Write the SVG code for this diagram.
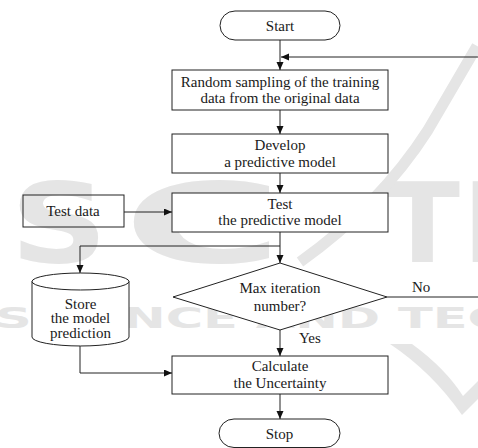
<svg xmlns="http://www.w3.org/2000/svg" width="478" height="448" viewBox="0 0 478 448">
<style>
.wm{fill:#e5e5e5;font-weight:bold}
.box{fill:#fff;stroke:#222;stroke-width:1}
.open{fill:none;stroke:#222;stroke-width:1}
.lbl{font-size:15px;fill:#1a1a1a;text-anchor:middle}
.con{fill:none;stroke:#222;stroke-width:1}
</style>
<defs>
<marker id="ah" markerUnits="userSpaceOnUse" markerWidth="9" markerHeight="8" refX="8" refY="3.5" orient="auto">
<path d="M0,0 L8,3.5 L0,7 Z" fill="#111"/>
</marker>
</defs>
<rect width="478" height="448" fill="#fff"/>
<g id="watermark" font-family="DejaVu Sans, sans-serif">
<text class="wm" x="10" y="262" font-size="110" textLength="98" lengthAdjust="spacingAndGlyphs">S</text>
<text class="wm" x="123" y="262" font-size="110" textLength="160" lengthAdjust="spacingAndGlyphs">C</text>
<text class="wm" x="385" y="262" font-size="110" textLength="75" lengthAdjust="spacingAndGlyphs">T</text>
<text class="wm" x="462" y="262" font-size="110" textLength="80" lengthAdjust="spacingAndGlyphs">E</text>
<path d="M477,46 L428,130 Q380,205 300,262" fill="none" stroke="#e5e5e5" stroke-width="11"/>
<text class="wm" x="-5" y="328" font-size="29" textLength="510" lengthAdjust="spacingAndGlyphs">SCIENCE AND TEC</text>
<path d="M390,344 L412,344 Q445,368 463,396 L478,381 L478,399 L462,415 Q432,372 390,344 Z" fill="#e5e5e5"/>
</g>
<g font-family="Liberation Serif, Times New Roman, serif">
<g id="start">
<rect class="box" x="220" y="11" width="120" height="29" rx="15" ry="14.5"/>
<text class="lbl" x="280" y="31">Start</text>
</g>
<g id="sampling">
<rect class="box" x="172" y="70" width="216" height="40"/>
<text class="lbl" x="280" y="86.5">Random sampling of the training</text>
<text class="lbl" x="280" y="102.5">data from the original data</text>
</g>
<g id="develop">
<rect class="box" x="172" y="134" width="216" height="39"/>
<text class="lbl" x="280" y="150">Develop</text>
<text class="lbl" x="280" y="166.5">a predictive model</text>
</g>
<g id="test">
<rect class="box" x="172" y="193" width="216" height="39"/>
<text class="lbl" x="280" y="208.5">Test</text>
<text class="lbl" x="280" y="225">the predictive model</text>
</g>
<g id="testdata">
<rect class="open" x="23" y="195" width="101" height="32"/>
<text class="lbl" x="73" y="216">Test data</text>
</g>
<g id="decision">
<path class="box" d="M173,297 L280,263 L387,297 L280,330 Z"/>
<text class="lbl" x="280" y="293">Max iteration</text>
<text class="lbl" x="280" y="311">number?</text>
</g>
<g id="store">
<path class="box" d="M32,281.5 A48.5,8.5 0 0,1 129,281.5 V337 A48.5,9 0 0,1 32,337 Z"/>
<path class="open" d="M32,281.5 A48.5,8.5 0 0,0 129,281.5"/>
<text class="lbl" x="80.5" y="308.5">Store</text>
<text class="lbl" x="80.5" y="323">the model</text>
<text class="lbl" x="80.5" y="337.5">prediction</text>
</g>
<g id="calculate">
<rect class="box" x="172" y="356" width="216" height="38"/>
<text class="lbl" x="280" y="371">Calculate</text>
<text class="lbl" x="280" y="388">the Uncertainty</text>
</g>
<g id="stop">
<rect class="box" x="219" y="419" width="121" height="28.5" rx="15" ry="14.25"/>
<text class="lbl" x="279.5" y="439">Stop</text>
</g>
<g id="connectors">
<path class="con" d="M280,40 V70" marker-end="url(#ah)"/>
<path class="con" d="M387,297 H478.5 V57 H281" marker-end="url(#ah)"/>
<path class="con" d="M280,110 V134" marker-end="url(#ah)"/>
<path class="con" d="M280,173 V193" marker-end="url(#ah)"/>
<path class="con" d="M124,212 H172" marker-end="url(#ah)"/>
<path class="con" d="M280,232 V263" marker-end="url(#ah)"/>
<path class="con" d="M280,246 H80 V273" marker-end="url(#ah)"/>
<path class="con" d="M280,330 V356" marker-end="url(#ah)"/>
<path class="con" d="M80,346 V373 H172" marker-end="url(#ah)"/>
<path class="con" d="M280,394 V419" marker-end="url(#ah)"/>
<text class="lbl" x="412" y="291.5" style="text-anchor:start">No</text>
<text class="lbl" x="299" y="343" style="text-anchor:start">Yes</text>
</g>
</g>
</svg>
